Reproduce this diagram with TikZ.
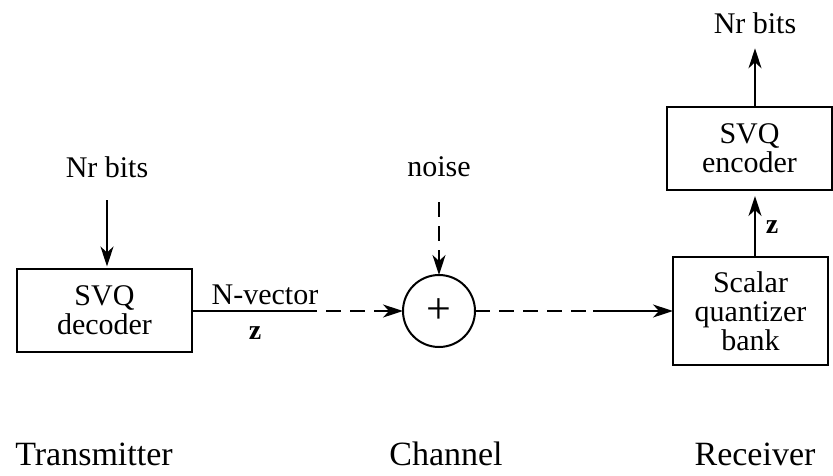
\documentclass[tikz,border=0pt]{standalone}
\usepackage{fontspec}
\setmainfont{Liberation Serif}
\usetikzlibrary{arrows.meta}
\begin{document}
\begin{tikzpicture}[x=1pt,y=-1pt,
  every node/.style={inner sep=0pt, outer sep=0pt},
  lbl/.style={font=\rmfamily\fontsize{30}{29}\selectfont, anchor=base},
  big/.style={font=\rmfamily\fontsize{34}{36}\selectfont, anchor=base},
  blk/.style={draw, line width=2pt, align=center, font=\rmfamily\fontsize{30}{29}\selectfont},
  sumnode/.style={draw, circle, line width=2pt, minimum size=72pt, font=\rmfamily\fontsize{44}{44}\selectfont},
  bz/.style={font=\rmfamily\bfseries\fontsize{28}{28}\selectfont},
  arr/.style={line width=2pt, -{Stealth[length=20pt, width=13pt, inset=6pt]}},
  ln/.style={line width=2pt},
  dsh/.style={dash pattern=on 15pt off 9pt}]
\useasboundingbox (0,0) rectangle (833,475);

% texts
\node[lbl] (nrin) at (107,177) {Nr bits};
\node[lbl] (noise) at (439,176) {noise};
\node[lbl] (nrout) at (755,33) {Nr bits};
\node[big] (tx) at (94,465) {Transmitter};
\node[big] (ch) at (446,465) {Channel};
\node[big] (rx) at (755,465) {Receiver};

% blocks
\node[blk, minimum width=175pt, minimum height=83pt] (dec) at (104.5,310) {SVQ\\decoder};
\node[sumnode] (sum) at (439,311) {+};
\node[blk, minimum width=155pt, minimum height=108pt] (scal) at (750.5,311) {Scalar\\quantizer\\bank};
\node[blk, minimum width=165pt, minimum height=83pt] (enc) at (749.5,148.5) {SVQ\\encoder};

% labels on connectors
\node[lbl] (nvec) at (265,304) {N-vector};
\node[bz] (z1) at (255,333) {z};
\node[bz] (z2) at (772,227) {z};

% connectors
\coordinate (m1) at (302,311);
\coordinate (m2) at (593,311);
\draw[arr, shorten <=23pt, shorten >=2pt] (nrin.south) -- (nrin.south |- dec.north);
\draw[ln] (dec.east |- m1) -- (m1);
\draw[arr, dsh] (m1) -- (sum.west);
\draw[arr, dsh, shorten <=26pt] (noise.south) -- (sum.north);
\draw[ln, dsh] (sum.east) -- (m2);
\draw[arr] (m2) -- (scal.west |- m2);
\draw[arr, shorten >=6pt] ([xshift=4.5pt]scal.north) -- ([xshift=5.5pt]enc.south);
\draw[arr, shorten >=15pt] ([xshift=5.5pt]enc.north) -- (nrout.south);
\end{tikzpicture}
\end{document}
